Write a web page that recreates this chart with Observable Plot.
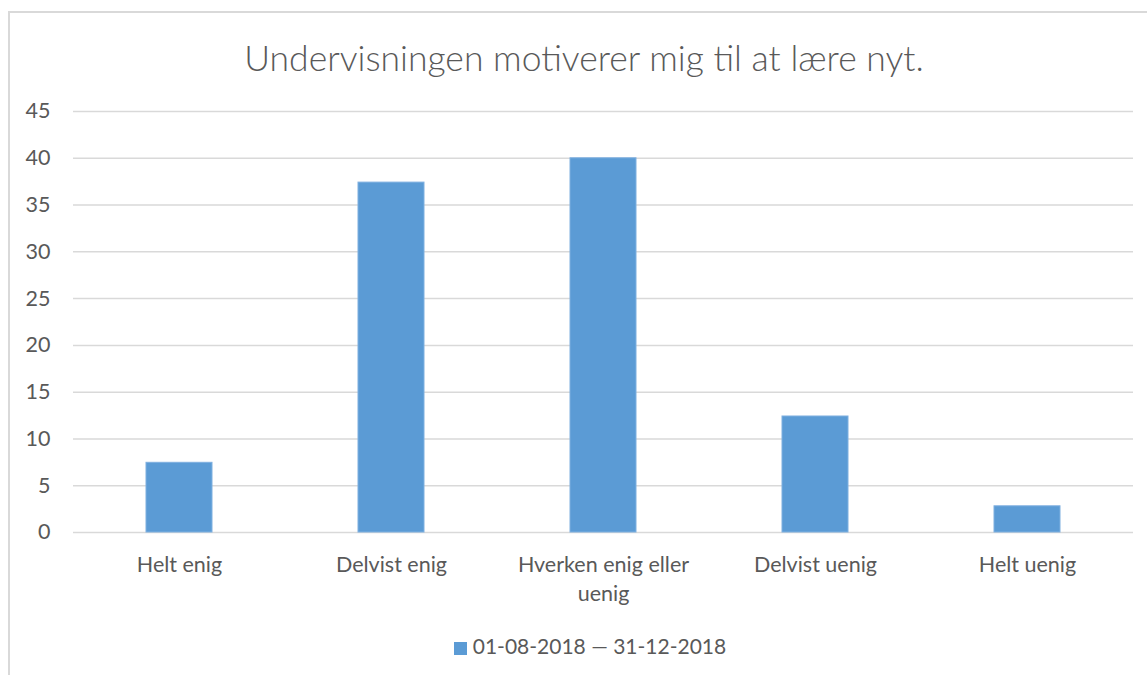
<!DOCTYPE html>
<html>
<head>
<meta charset="utf-8">
<script src="https://cdn.jsdelivr.net/npm/d3@7"></script>
<script src="https://cdn.jsdelivr.net/npm/@observablehq/plot@0.6"></script>
<style>
  html, body { margin: 0; padding: 0; background: #fff; }
  #wrap { position: relative; width: 1147px; height: 675px; overflow: hidden; font-family: Lato, "Open Sans", sans-serif; color: #595959; }
  #border { position: absolute; left: 8px; top: 11px; width: 1200px; height: 700px; border-left: 2px solid #d9d9d9; border-top: 2px solid #d9d9d9; box-sizing: border-box; }
  #title { position: absolute; left: 0; width: 1168px; top: 36px; text-align: center; font-size: 35.5px; font-weight: 300; line-height: 44px; }
  #chart { position: absolute; left: 0; top: 0; }
  #legend { position: absolute; left: 0; width: 1180px; top: 634px; text-align: center; font-size: 21px; line-height: 24px; }
  #legend .sw { display: inline-block; width: 13px; height: 13px; background: #5B9BD5; margin-right: 6px; vertical-align: -1px; }
</style>
</head>
<body>
<div id="wrap">
  <div id="border"></div>
  <div id="chart"></div>
  <div id="title"></div>
  <div id="legend"></div>
</div>
<script>
const titleText = "Undervisningen motiverer mig til at lære nyt.";
const seriesName = "01-08-2018 — 31-12-2018";
const categories = ["Helt enig", "Delvist enig", "Hverken enig eller uenig", "Delvist uenig", "Helt uenig"];
const tickLabels = ["Helt enig", "Delvist enig", "Hverken enig eller\nuenig", "Delvist uenig", "Helt uenig"];
const values = [7.45, 37.4, 40.0, 12.4, 2.8];
const yTicks = [0, 5, 10, 15, 20, 25, 30, 35, 40, 45];

const data = categories.map((c, i) => ({category: c, value: values[i]}));
const labelOf = new Map(categories.map((c, i) => [c, tickLabels[i]]));

document.getElementById("title").textContent = titleText;
document.getElementById("legend").innerHTML = '<span class="sw"></span>' + seriesName;

const chart = Plot.plot({
  width: 1147,
  height: 675,
  marginTop: 111,
  marginBottom: 143,
  marginLeft: 73,
  marginRight: 14,
  style: {background: "transparent", color: "#595959", fontFamily: "Lato, 'Open Sans', sans-serif", fontSize: "21px"},
  x: {domain: categories, paddingInner: 0.69, paddingOuter: 0.345, label: null},
  y: {domain: [0, 45], label: null},
  marks: [
    Plot.ruleY(yTicks, {stroke: "#d9d9d9", strokeWidth: 1.5}),
    Plot.barY(data, {x: "category", y: "value", fill: "#5B9BD5", stroke: "#7fb0e0", strokeWidth: 1}),
    Plot.axisY({ticks: yTicks, tickSize: 0, tickPadding: 23, fontSize: 21.5, fill: "#595959", label: null}),
    Plot.axisX({tickSize: 0, tickPadding: 19, fontSize: 21.5, fill: "#595959", lineHeight: 1.35, tickFormat: d => labelOf.get(d), label: null})
  ]
});
document.getElementById("chart").appendChild(chart);
</script>
</body>
</html>
